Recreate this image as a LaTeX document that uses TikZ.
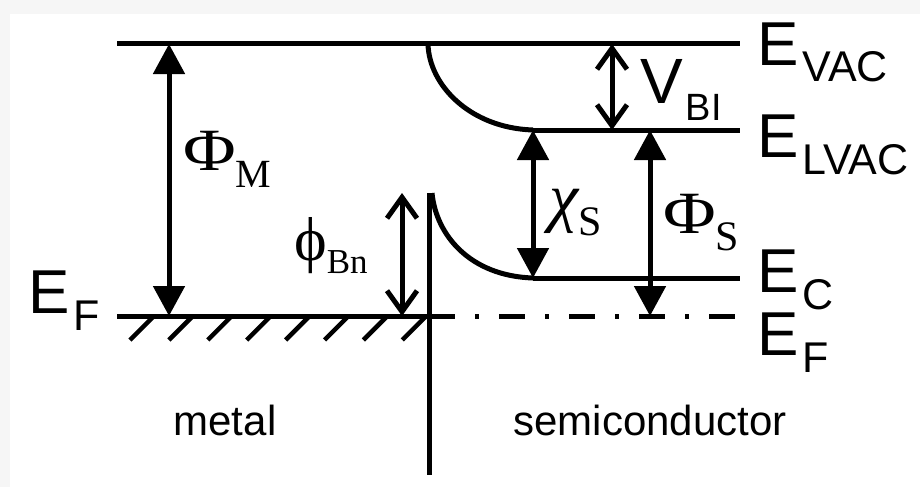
\documentclass[tikz,border=0pt]{standalone}
\usepackage{fontspec}
\usepackage{tikz}
\usetikzlibrary{arrows.meta}
\newfontfamily\sanslabel{Liberation Sans}
\newfontfamily\seriflabel{Liberation Serif}
\newfontfamily\widegreek[FakeStretch=1.2]{Liberation Serif}
\newcommand{\symsub}[5]{{\fontsize{#3}{#3}\selectfont #1}\raisebox{-#5pt}{\fontsize{#4}{#4}\selectfont #2}}
\newcommand{\elevel}[1]{\sanslabel\symsub{E}{\kern4pt #1}{62}{43}{17}}
\tikzset{
  level/.style={line width=5pt},
  fatarrow/.style={line width=5pt,
    {Triangle[length=30pt,width=31pt]}-{Triangle[length=30pt,width=31pt]}},
  barbarrow/.style={line width=5pt,
    {Straight Barb[length=21pt,width=30pt,line width=5pt]}-{Straight Barb[length=21pt,width=30pt,line width=5pt]}},
  hatch/.style={line width=4.5pt},
  fermidash/.style={line width=5pt,dash pattern=on 26pt off 20pt on 4pt off 20pt}
}

\begin{document}
\begin{tikzpicture}[
  x=1pt, y=-1pt,
  every node/.style={inner sep=0pt, anchor=base west}
]
\useasboundingbox (0,0) rectangle (920,487);
\fill[gray!7] (0,0) rectangle (920,487);
\fill[white] (10,14) rectangle (920,487);

\coordinate (vacL) at (117,44);
\coordinate (vacR) at (740,44);
\coordinate (bend) at (428,44);
\coordinate (lvacL) at (533,130);
\coordinate (lvacR) at (740,130);
\coordinate (ecL) at (533,278);
\coordinate (ecR) at (740,278);
\coordinate (mfL) at (117,316);
\coordinate (jfermi) at (429,316);
\coordinate (sfR) at (740,316);
\coordinate (jtop) at (429,193);
\coordinate (jbot) at (429,475);

\coordinate (phiMtop) at (169,44);
\coordinate (phiMbot) at (169,316);
\coordinate (bnTop) at (402,193);
\coordinate (bnBot) at (402,316);
\coordinate (vbiTop) at (612,44);
\coordinate (vbiBot) at (612,130);
\coordinate (chiTop) at (533,130);
\coordinate (chiBot) at (533,278);
\coordinate (phiStop) at (650,130);
\coordinate (phiSbot) at (650,316);

\node (evac) at (757,65) {\elevel{VAC}};
\node (elvac) at (757,157) {\elevel{LVAC}};
\node (ec) at (757,292) {\elevel{C}};
\node (efs) at (757,355) {\elevel{F}};
\node (efm) at (28,313) {\elevel{F}};

\node (phiM) at (183,170) {\widegreek\symsub{Φ}{\seriflabel M}{60}{40}{17}};
\node (phiBn) at (294,260) {\seriflabel\symsub{ϕ}{Bn}{62}{35}{13}};
\node (vbi) at (640,103) {\sanslabel\symsub{V}{\kern3pt BI}{64}{38}{17}};
\node (chiS) at (549,219) {\seriflabel\symsub{\itshape χ}{S}{66}{42}{16}};
\node (phiS) at (663,233) {\widegreek\symsub{Φ}{\seriflabel S}{60}{42}{17}};

\node[anchor=base] (metal) at (225,435) {\sanslabel\fontsize{42}{42}\selectfont metal};
\node[anchor=base] (semi) at (650,435)
{\sanslabel\fontsize{42}{42}\selectfont semiconductor};

\draw[level] (vacL) -- (vacR);
\draw[level] (lvacL) -- (lvacR);
\draw[level] (ecL) -- (ecR);
\draw[level] (mfL) -- (jfermi);
\draw[fermidash] (jfermi) -- (sfR);
\draw[level] (jtop) -- (jbot);
\draw[level] (bend) .. controls (429,85) and (470,128) .. (lvacL);
\draw[level] ([xshift=3pt]jtop) .. controls (436,235) and (470,276) .. (ecL);

\foreach \i in {0,...,7}
  \draw[hatch] (130+38.9*\i,340) -- ++(23,-23);

\draw[fatarrow] (phiMtop) -- (phiMbot);
\draw[fatarrow] (chiTop) -- (chiBot);
\draw[fatarrow] (phiStop) -- (phiSbot);
\draw[barbarrow] (bnTop) -- (bnBot);
\draw[barbarrow] (vbiTop) -- (vbiBot);

\end{tikzpicture}
\end{document}
